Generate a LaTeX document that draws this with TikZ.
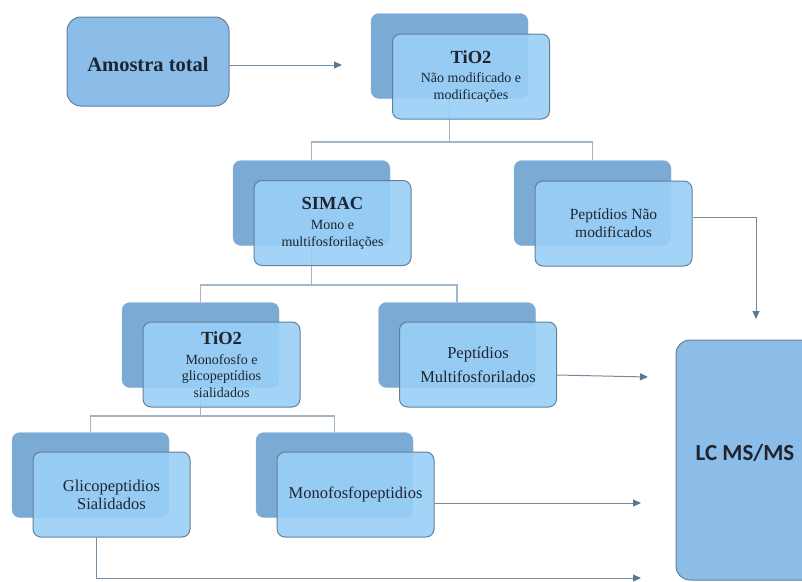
\documentclass[tikz,border=0pt]{standalone}
\usepackage{fontspec}
\setmainfont{LiberationSerif}[
  Extension=.ttf,
  UprightFont=*-Regular,
  BoldFont=*-Bold,
  ItalicFont=*-Italic,
  BoldItalicFont=*-BoldItalic]
\newfontfamily\lcfont{Carlito}
\usetikzlibrary{arrows.meta,calc}

\definecolor{backblue}{HTML}{7BABD4}
\definecolor{frontblue}{HTML}{99CFF7}
\definecolor{mainblue}{HTML}{8BBDE8}
\definecolor{edgegray}{HTML}{61809A}
\definecolor{treeline}{HTML}{A3B6C8}
\definecolor{arrowcol}{HTML}{5A7891}
\definecolor{inkcol}{HTML}{1E2530}

\tikzset{
  backbox/.style={rectangle, rounded corners=8pt, fill=backblue, draw=backblue!90!white,
    minimum width=157pt, minimum height=85pt, inner sep=0pt},
  frontbox/.style={rectangle, rounded corners=8pt, fill=frontblue, fill opacity=0.9,
    text opacity=1, draw=edgegray, line width=1pt, minimum width=157pt,
    minimum height=85pt, inner sep=0pt, align=center, text=inkcol},
  mainbox/.style={rectangle, rounded corners=14pt, fill=mainblue, draw=edgegray,
    line width=1pt, align=center, text=inkcol},
  tree/.style={draw=treeline, line width=1.1pt},
  flow/.style={draw=arrowcol!70!treeline, line width=1pt,
    -{Triangle[length=8pt,width=7pt,fill=arrowcol,color=arrowcol]}},
}
\newcommand{\headfnt}{\fontsize{18.5}{22}\selectfont\bfseries}
\newcommand{\subfnt}{\fontsize{14}{16.5}\selectfont\mdseries}
\newcommand{\bodyfnt}{\fontsize{16.5}{18}\selectfont}

\begin{document}
\begin{tikzpicture}[x=1pt,y=-1pt]
\useasboundingbox (0,0) rectangle (802,581);
\clip (0,0) rectangle (802,581);

% back layers
\node[backbox] (tiA-b) at (449.5,56) {};
\node[backbox] (simac-b) at (311.5,203) {};
\node[backbox] (pnm-b) at (592.5,203) {};
\node[backbox] (tiB-b) at (200.5,345) {};
\node[backbox] (pmf-b) at (457,345) {};
\node[backbox] (glico-b) at (90.5,475) {};
\node[backbox] (mono-b) at (334.5,475) {};

% tree connectors (over the back layers, under the front layers)
\coordinate (j1) at (449.5,142);
\coordinate (j2) at (311.5,285);
\coordinate (j3) at (200.5,416);
\draw[tree] (tiA-b.center) -- (j1);
\draw[tree] (j1) -| (simac-b.north);
\draw[tree] (j1) -| (pnm-b.north);
\draw[tree] (simac-b.center) -- (j2);
\draw[tree] (j2) -| (tiB-b.north);
\draw[tree] (j2) -| (pmf-b.north);
\draw[tree] (tiB-b.center) -- (j3);
\draw[tree] (j3) -| (glico-b.north);
\draw[tree] (j3) -| (mono-b.north);

% front layers
\node[frontbox, font=\subfnt] (tiA) at (471,76.5)
  {\headfnt TiO2\\[3pt]\subfnt Não modificado e\\ modificações};
\node[frontbox, font=\subfnt] (simac) at (332.5,223)
  {\headfnt SIMAC\\[4pt]\subfnt Mono e\\ multifosforilações};
\node[frontbox, font=\fontsize{15.5}{18}\selectfont] (pnm) at (613.5,223.5)
  {Peptídios Não\\ modificados};
\node[frontbox, font=\subfnt] (tiB) at (221.5,364.5)
  {\headfnt TiO2\\[3pt]\subfnt Monofosfo e\\ glicopeptídios\\ sialidados};
\node[frontbox, font=\bodyfnt] (pmf) at (478,364.5)
  {Peptídios\\[6pt] Multifosforilados};
\node[frontbox, font=\bodyfnt] (glico) at (111.5,494.5)
  {Glicopeptidios\\ Sialidados};
\node[frontbox, font=\bodyfnt] (mono) at (355.5,494.5)
  {Monofosfopeptidios};

% main stages
\node[mainbox, minimum width=162pt, minimum height=89pt] (amostra) at (148,61.5) {};
\node[text=inkcol, font=\fontsize{20.5}{24}\selectfont\bfseries] (amostra-t) at (148,64)
  {Amostra total};
\node[mainbox, minimum width=150pt, minimum height=240pt] (lc) at (751,460) {};
\node[text=inkcol, font=\lcfont\bfseries\fontsize{23}{26}\selectfont] (lct) at (745,453) {LC MS/MS};

% flow arrows
\coordinate (a1) at (342,65);
\coordinate (a2) at (756,319);
\coordinate (a3) at (648,377);
\coordinate (a4) at (641,503);
\coordinate (a5) at (641,578);
\draw[flow] (amostra.east |- a1) -- (a1);
\draw[flow] ($(pnm.east)+(0,-6.5)$) -| (a2);
\draw[flow] ($(pmf.east)+(0,10.5)$) -- (a3);
\draw[flow] ($(mono.east)+(0,8.5)$) -- (a4);
\draw[flow] ($(glico.south)+(-15.5,0)$) |- (a5);
\end{tikzpicture}
\end{document}
